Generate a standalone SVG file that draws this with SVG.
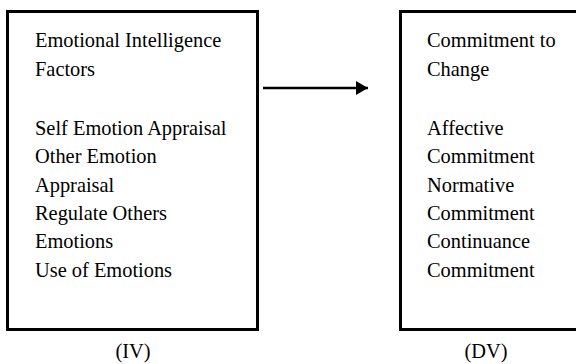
<svg xmlns="http://www.w3.org/2000/svg" width="576" height="364" viewBox="0 0 576 364">
<defs>
<style>
.box{fill:#fff;stroke:#000;stroke-width:3}
.t{font-family:"Liberation Serif","Times New Roman",serif;font-size:20.4px;fill:#000}
.lbl{font-family:"Liberation Serif","Times New Roman",serif;font-size:20.4px;fill:#000;text-anchor:middle}
</style>
<marker id="ah" markerWidth="12" markerHeight="14" refX="12" refY="7" orient="auto" markerUnits="userSpaceOnUse">
<path d="M0,0 L12,7 L0,14 Z" fill="#000"/>
</marker>
</defs>
<rect width="576" height="364" fill="#fff"/>
<g id="iv">
<rect class="box" x="7.5" y="11.5" width="250" height="318"/>
<text class="t" x="35" y="47">Emotional Intelligence</text>
<text class="t" x="35" y="76">Factors</text>
<text class="t" x="35" y="135">Self Emotion Appraisal</text>
<text class="t" x="35" y="163">Other Emotion</text>
<text class="t" x="35" y="192">Appraisal</text>
<text class="t" x="35" y="220">Regulate Others</text>
<text class="t" x="35" y="248">Emotions</text>
<text class="t" x="35" y="277">Use of Emotions</text>
<text class="lbl" x="133" y="358">(IV)</text>
</g>
<g id="dv">
<rect class="box" x="400.5" y="11.5" width="190" height="318"/>
<text class="t" x="427" y="47">Commitment to</text>
<text class="t" x="427" y="76">Change</text>
<text class="t" x="427" y="135">Affective</text>
<text class="t" x="427" y="163">Commitment</text>
<text class="t" x="427" y="192">Normative</text>
<text class="t" x="427" y="220">Commitment</text>
<text class="t" x="427" y="248">Continuance</text>
<text class="t" x="427" y="277">Commitment</text>
<text class="lbl" x="486" y="358">(DV)</text>
</g>
<g id="connectors">
<line x1="263" y1="88" x2="368" y2="88" stroke="#000" stroke-width="2.5" marker-end="url(#ah)"/>
</g>
</svg>
